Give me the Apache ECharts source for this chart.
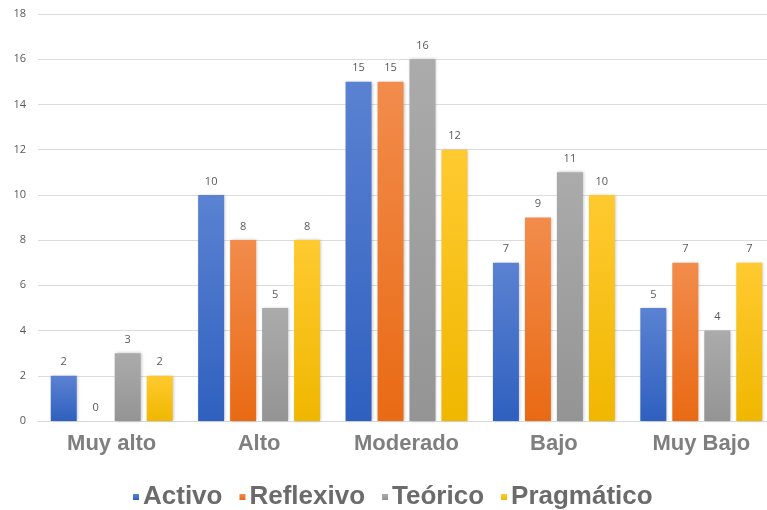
<!DOCTYPE html>
<html>
<head>
<meta charset="utf-8">
<script src="https://cdn.jsdelivr.net/npm/echarts@6/dist/echarts.min.js"></script>
<style>
  html, body { margin: 0; padding: 0; background: #ffffff; }
  #chart { width: 767px; height: 510px; }
</style>
</head>
<body>
<div id="chart"></div>
<script>
// Learning-style counts per level
const categories = ['Muy alto', 'Alto', 'Moderado', 'Bajo', 'Muy Bajo'];
const seriesNames = ['Activo', 'Reflexivo', 'Teórico', 'Pragmático'];
const activo = [2, 10, 15, 7, 5];
const reflexivo = [0, 8, 15, 9, 7];
const teorico = [3, 5, 16, 11, 4];
const pragmatico = [2, 8, 12, 10, 7];
const yTicks = { min: 0, max: 18, interval: 2 };

const values = [activo, reflexivo, teorico, pragmatico];
const palette = [
  { top: '#5b82d2', bottom: '#2f60bf', legend: '#3a66c4' },
  { top: '#f28c4c', bottom: '#e96a14', legend: '#ed7d31' },
  { top: '#ababab', bottom: '#949494', legend: '#a5a5a5' },
  { top: '#ffca30', bottom: '#f0b700', legend: '#ffc000' }
];

const chart = echarts.init(document.getElementById('chart'), null, { renderer: 'canvas' });

const series = seriesNames.map((name, i) => ({
  name: name,
  type: 'bar',
  data: values[i],
  barWidth: 26,
  barGap: '23%',
  itemStyle: {
    color: new echarts.graphic.LinearGradient(0, 0, 0, 1, [
      { offset: 0, color: palette[i].top },
      { offset: 1, color: palette[i].bottom }
    ]),
    shadowColor: 'rgba(0,0,0,0.25)',
    shadowBlur: 3,
    shadowOffsetX: 1,
    shadowOffsetY: 0
  },
  label: {
    show: true,
    position: 'top',
    distance: 8,
    color: '#595959',
    fontSize: 11,
    fontFamily: 'Open Sans'
  }
}));

chart.setOption({
  animation: false,
  color: palette.map(p => p.legend),
  legend: {
    bottom: -5,
    left: 128,
    icon: 'rect',
    itemWidth: 6,
    itemHeight: 6,
    itemGap: 17,
    textStyle: {
      fontFamily: 'Liberation Sans',
      fontWeight: 'bold',
      fontSize: 26,
      color: '#6b6b6b',
      padding: [0, 0, 0, -1]
    },
    data: seriesNames
  },
  grid: {
    left: 38,
    top: 14,
    width: 737,
    height: 407,
    outerBoundsMode: 'none',
    containLabel: false
  },
  xAxis: {
    type: 'category',
    data: categories,
    axisLine: { show: true, lineStyle: { color: '#d9d9d9', width: 1 } },
    axisTick: { show: false },
    axisLabel: {
      margin: 12,
      fontFamily: 'Liberation Sans',
      fontWeight: 'bold',
      fontSize: 22,
      color: '#7f7f7f'
    }
  },
  yAxis: {
    type: 'value',
    min: yTicks.min,
    max: yTicks.max,
    interval: yTicks.interval,
    axisLine: { show: false },
    axisTick: { show: false },
    splitLine: { lineStyle: { color: '#dcdcdc', width: 1 } },
    axisLabel: {
      margin: 12,
      fontFamily: 'Open Sans',
      fontSize: 11,
      color: '#595959'
    }
  },
  series: series
});
</script>
</body>
</html>
